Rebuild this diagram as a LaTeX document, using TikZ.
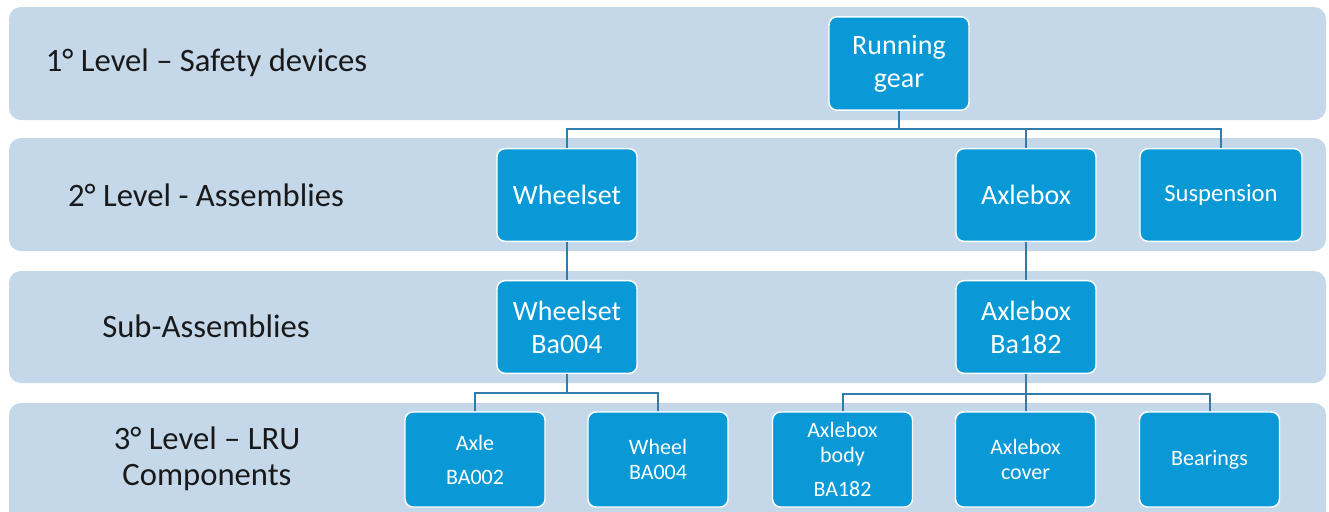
\documentclass[tikz,border=0pt]{standalone}
\usepackage{fontspec}
\setmainfont{Carlito}
\definecolor{bandc}{RGB}{196,216,234}
\definecolor{boxc}{RGB}{8,153,214}
\definecolor{linec}{RGB}{48,124,170}
\definecolor{labc}{RGB}{25,25,25}
\begin{document}
\begin{tikzpicture}[x=0.75pt,y=-0.75pt,
  band/.style={fill=bandc,rounded corners=9pt},
  levlab/.style={text=labc,align=center,font=\fontsize{24.5}{27}\selectfont},
  boxa/.style={draw=white,line width=1.1pt,fill=boxc,rounded corners=6pt,text=white,align=center,
    minimum width=105pt,minimum height=69.5pt,inner sep=0pt,font=\fontsize{21}{24.75}\selectfont},
  boxb/.style={draw=white,line width=1.1pt,fill=boxc,rounded corners=6pt,text=white,align=center,
    minimum width=105pt,minimum height=71.25pt,inner sep=0pt,font=\fontsize{16.5}{18.75}\selectfont},
  conn/.style={draw=linec,line width=1.5pt}]
\clip (0,0) rectangle (1329,511);
\fill[white] (0,0) rectangle (1329,511);
% bands
\fill[band] (9,7) rectangle (1326,120);
\fill[band] (9,138) rectangle (1326,251);
\fill[band] (9,271) rectangle (1326,383);
\fill[band] (9,403) rectangle (1326,540);
% level labels
\node[levlab] (l1) at (206.5,63) {1° Level – Safety devices};
\node[levlab] (l2) at (206,195) {2° Level - Assemblies};
\node[levlab] (l3) at (206,326) {Sub-Assemblies};
\node[levlab] (l4) at (207,459) {3° Level – LRU\\Components};
% boxes
\node[boxa,minimum height=70pt] (rg) at (899,63.5) {Running\\gear};
\node[boxa] (ws) at (567,195) {Wheelset};
\node[boxa] (ab) at (1026,195) {Axlebox};
\node[boxa,minimum width=121.5pt,font=\fontsize{18.5}{22}\selectfont] (su) at (1221,195) {Suspension};
\node[boxa] (wsb) at (567,327) {Wheelset\\Ba004};
\node[boxa] (abb) at (1026,327) {Axlebox\\Ba182};
\node[boxb] (axle) at (475,459.5) {Axle\\[6.75pt]BA002};
\node[boxb] (wheel) at (658,459.5) {Wheel\\BA004};
\node[boxb] (body) at (842.5,459.5) {Axlebox\\body\\[6.75pt]BA182};
\node[boxb] (cover) at (1025.5,459.5) {Axlebox\\cover};
\node[boxb] (bear) at (1209.5,459.5) {Bearings};
% connectors
\coordinate (b1) at (899,129);
\coordinate (b2) at (567,393);
\coordinate (b3) at (1026,394);
\draw[conn] (rg.south) -- (b1);
\draw[conn] (b1) -| (ws.north);
\draw[conn] (b1) -| (ab.north);
\draw[conn] (b1) -| (su.north);
\draw[conn] (ws.south) -- (wsb.north);
\draw[conn] (ab.south) -- (abb.north);
\draw[conn] (wsb.south) -- (b2);
\draw[conn] (b2) -| (axle.north);
\draw[conn] (b2) -| (wheel.north);
\draw[conn] (abb.south) -- (b3);
\draw[conn] (b3) -| (body.north);
\draw[conn] (b3) -| (cover.north);
\draw[conn] (b3) -| (bear.north);
\end{tikzpicture}
\end{document}
